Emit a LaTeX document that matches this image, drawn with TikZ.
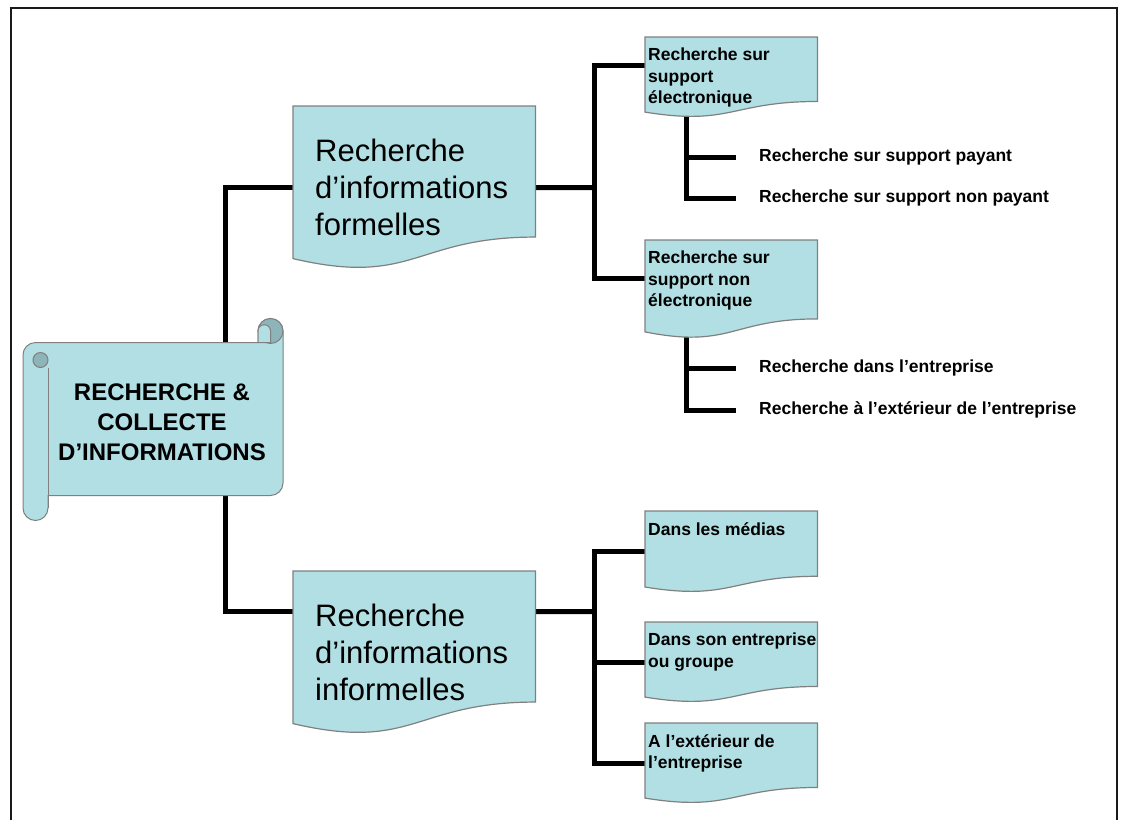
\documentclass[tikz,border=0pt]{standalone}
\usepackage{fontspec}
\setmainfont{Liberation Sans}
\usetikzlibrary{
  calc,
  backgrounds,
  positioning
}
\definecolor{rcFill}{HTML}{B1DFE3}
\definecolor{rcRoll}{HTML}{8DB4B8}
\definecolor{rcEdge}{HTML}{808080}
\definecolor{rcFrame}{HTML}{1A1A1A}
\tikzset{
  docbox/.style={rectangle, anchor=north west, inner sep=0pt, minimum width=172pt},
  docshape/.style={fill=rcFill, draw=rcEdge, line width=1.2pt},
  rollshape/.style={fill=rcFill, draw=rcEdge, line width=1pt},
  rolldark/.style={fill=rcRoll, draw=rcEdge, line width=1pt},
  rolltext/.style={font=\fontsize{24}{30}\selectfont\bfseries, align=center},
  bigtext/.style={anchor=west, xshift=22pt, inner sep=0pt, align=left,
    font=\fontsize{31}{37}\selectfont},
  childtext/.style={anchor=north west, xshift=3pt, yshift=-11pt, inner sep=0pt, align=left,
    font=\fontsize{17.5}{21.5}\selectfont\bfseries},
  leaf/.style={anchor=west, inner xsep=23pt, inner ysep=0pt,
    font=\fontsize{17.5}{21.5}\selectfont\bfseries},
  link/.style={line width=5pt, black, line join=miter},
  pageframe/.style={line width=2pt, rcFrame}
}

\begin{document}
\begin{tikzpicture}[x=1pt, y=-1pt]
  \useasboundingbox (0,0) rectangle (1122,820);
  \draw[pageframe] (11,820) -- (11,8) -- (1117,8) -- (1117,820);

  % root scroll
  \node[rolltext] (root) at (162,422) {RECHERCHE \&\\COLLECTE\\D’INFORMATIONS};

  % main boxes
  \node[docbox, minimum width=242pt, minimum height=163pt,
    label={[bigtext]west:{Recherche\\d’informations\\formelles}}] (formel) at (293,106) {};
  \node[docbox, minimum width=242pt, minimum height=163pt,
    label={[bigtext]west:{Recherche\\d’informations\\informelles}}] (informel) at (293,571) {};

  % second level
  \node[docbox, minimum height=80pt,
    label={[childtext]north west:{Recherche sur\\support\\électronique}}] (elec) at (645,37) {};
  \node[docbox, minimum height=98pt,
    label={[childtext]north west:{Recherche sur\\support non\\électronique}}] (nonelec) at (645,240) {};
  \node[docbox, minimum height=81pt,
    label={[childtext]north west:{Dans les médias}}] (medias) at (645,511) {};
  \node[docbox, minimum height=80pt,
    label={[childtext]north west:{Dans son entreprise\\ou groupe}}] (groupe) at (645,622) {};
  \node[docbox, minimum height=80pt,
    label={[childtext]north west:{A l’extérieur de\\l’entreprise}}] (exter) at (645,723) {};

  % leaves
  \foreach \nm/\y/\txt in {
    payant/157/{Recherche sur support payant},
    nonpayant/198/{Recherche sur support non payant},
    dedans/368/{Recherche dans l’entreprise},
    dehors/410/{Recherche à l’extérieur de l’entreprise}}{
    \node[leaf] (\nm) at (736,\y) {\txt};
  }

  \coordinate (trunk) at (225,400);
  \coordinate (fork1) at (594,187.5);
  \coordinate (fork2) at (594,611.5);

  \begin{scope}[on background layer]
    % connectors
    \draw[link] (formel.west) -| (trunk) |- ([yshift=41pt]informel.west);
    \draw[link] (formel.east) -- (fork1);
    \draw[link] ([yshift=12pt]elec.west) -| (fork1) |- ([yshift=11pt]nonelec.west);
    \draw[link] ([xshift=41pt,yshift=2pt]elec.south west) |- (payant.west);
    \draw[link] ([xshift=41pt,yshift=2pt]elec.south west) |- (nonpayant.west);
    \draw[link] ([xshift=41pt,yshift=2pt]nonelec.south west) |- (dedans.west);
    \draw[link] ([xshift=41pt,yshift=2pt]nonelec.south west) |- (dehors.west);
    \draw[link] ([yshift=41pt]informel.east) -- (fork2);
    \draw[link] (medias.west) -| (fork2) |- (exter.west);
    \draw[link] (fork2) |- (groupe.west);

    % document shapes
    \foreach \n in {formel, informel, elec, nonelec, medias, groupe, exter}{
      \filldraw[docshape] (\n.north west) -- (\n.north east)
        -- ($(\n.north east)!0.802!(\n.south east)$)
        .. controls ($(\n.north)!0.802!(\n.south)$) and ($(\n.north)!1.1075!(\n.south)$)
        .. ($(\n.north west)!0.934!(\n.south west)$) -- cycle;
    }

    % scroll
    \filldraw[rollshape] (23,508) -- (23,355) arc (180:270:12.5) -- (258,342.5) -- (258,331)
      arc (180:360:12.5) -- (283,483) arc (0:90:12.5) -- (48,495.5) -- (48,508)
      arc (0:180:12.5) -- cycle;
    \filldraw[rolldark] (270.5,331) circle (12.5);
    \filldraw[rollshape] (258,342.5) -- (258,331) arc (180:360:6.25) -- (270.5,342.5) -- cycle;
    \filldraw[rolldark] (40.5,360) circle (7.5);
    \draw[rollshape, fill=none] (48,367.5) -- (48,508);
  \end{scope}
\end{tikzpicture}
\end{document}
